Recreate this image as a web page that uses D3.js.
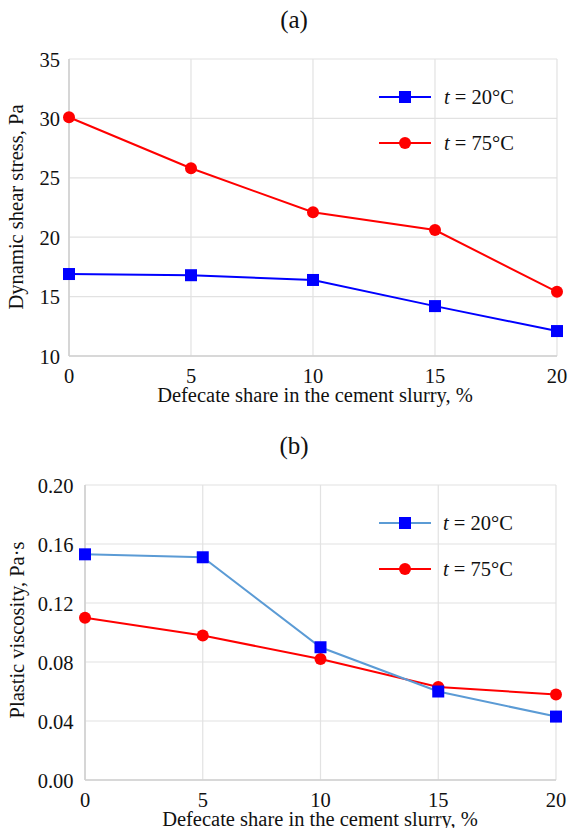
<!DOCTYPE html>
<html>
<head>
<meta charset="utf-8">
<title>Defecate share charts</title>
<style type="text/css">
body{
  margin:0;
  background:#fff;
}
svg text{
  font-family:"Liberation Serif","Times New Roman",serif;
  fill:#111;
}
</style>
</head>
<body>
<div id="chart"></div>
<script src="https://cdn.jsdelivr.net/npm/d3@7/dist/d3.min.js"></script>
<script type="text/javascript">
// data
var shares = [0, 5, 10, 15, 20];
var stress20 = [16.9, 16.8, 16.4, 14.2, 12.1];
var stress75 = [30.1, 25.8, 22.1, 20.6, 15.4];
var visc20 = [0.153, 0.151, 0.090, 0.060, 0.043];
var visc75 = [0.110, 0.098, 0.082, 0.063, 0.058];
var stressTicks = [10, 15, 20, 25, 30, 35];
var viscTicks = [0, 0.04, 0.08, 0.12, 0.16, 0.20];
var legendLabels = ["20°C", "75°C"];

var svg = d3.select("#chart").append("svg")
    .attr("width", 569)
    .attr("height", 828)
    .attr("font-family", "'Liberation Serif', 'Times New Roman', serif");

function drawPanel(o) {
  var x = d3.scaleLinear().domain([0, 20]).range([o.left, o.right]);
  var y = d3.scaleLinear().domain(o.domain).range([o.bottom, o.top]);
  var g = svg.append("g");

  // title
  g.append("text")
    .attr("x", 294).attr("y", o.titleY)
    .attr("text-anchor", "middle")
    .style("font-size", "25px")
    .text(o.title);

  // gridlines
  g.selectAll(".hg").data(o.yTicks).enter().append("line")
    .attr("x1", o.left).attr("x2", o.right)
    .attr("y1", function(d){ return y(d); })
    .attr("y2", function(d){ return y(d); })
    .attr("stroke", "#e2e2e2").attr("stroke-width", 1.2);
  g.selectAll(".vg").data(shares).enter().append("line")
    .attr("y1", o.top).attr("y2", o.bottom)
    .attr("x1", function(d){ return x(d); })
    .attr("x2", function(d){ return x(d); })
    .attr("stroke", "#e2e2e2").attr("stroke-width", 1.2);

  // axes lines
  g.append("line").attr("x1", o.left).attr("x2", o.left)
    .attr("y1", o.top).attr("y2", o.bottom)
    .attr("stroke", "#d0d0d0").attr("stroke-width", 1.6);
  g.append("line").attr("x1", o.left).attr("x2", o.right)
    .attr("y1", o.bottom).attr("y2", o.bottom)
    .attr("stroke", "#d0d0d0").attr("stroke-width", 1.6);

  // tick labels
  g.selectAll(".yt").data(o.yTicks).enter().append("text")
    .attr("x", o.left - o.tickGap)
    .attr("y", function(d){ return y(d); })
    .attr("dy", "0.37em")
    .attr("text-anchor", "end")
    .style("font-size", "20.5px")
    .text(function(d){ return o.fmt(d); });
  g.selectAll(".xt").data(shares).enter().append("text")
    .attr("x", function(d){ return x(d); })
    .attr("y", o.bottom + 26.5)
    .attr("text-anchor", "middle")
    .style("font-size", "20.5px")
    .text(function(d){ return d; });

  // axis titles
  g.append("text")
    .attr("x", o.xTitleX)
    .attr("y", o.bottom + 45.5)
    .attr("text-anchor", "middle")
    .style("font-size", "20.5px")
    .text("Defecate share in the cement slurry, %");
  g.append("text")
    .attr("transform", "translate(" + o.yTitleX + "," + o.yTitleY + ") rotate(-90)")
    .attr("text-anchor", "middle")
    .style("font-size", "20.5px")
    .text(o.yTitle);

  var line = d3.line()
    .x(function(d, i){ return x(shares[i]); })
    .y(function(d){ return y(d); });

  // series
  g.append("path").datum(o.s75)
    .attr("d", line).attr("fill", "none")
    .attr("stroke", "#ff0000").attr("stroke-width", 2);
  g.append("path").datum(o.s20)
    .attr("d", line).attr("fill", "none")
    .attr("stroke", o.line20).attr("stroke-width", 2);

  g.selectAll(".c75").data(o.s75).enter().append("circle")
    .attr("cx", function(d, i){ return x(shares[i]); })
    .attr("cy", function(d){ return y(d); })
    .attr("r", 6).attr("fill", "#ff0000");
  g.selectAll(".s20").data(o.s20).enter().append("rect")
    .attr("x", function(d, i){ return x(shares[i]) - 6; })
    .attr("y", function(d){ return y(d) - 6; })
    .attr("width", 12).attr("height", 12)
    .attr("fill", "#0000ff");

  // legend (no background, gridlines show through)
  var lg = g.append("g");
  legendLabels.forEach(function(lab, i){
    var ly = o.legY + i * 46;
    var col = i === 0 ? o.line20 : "#ff0000";
    lg.append("line").attr("x1", 379).attr("x2", 431)
      .attr("y1", ly).attr("y2", ly)
      .attr("stroke", col).attr("stroke-width", 2);
    if (i === 0) {
      lg.append("rect").attr("x", 399).attr("y", ly - 6)
        .attr("width", 12).attr("height", 12).attr("fill", "#0000ff");
    } else {
      lg.append("circle").attr("cx", 405).attr("cy", ly)
        .attr("r", 6).attr("fill", "#ff0000");
    }
    var t = lg.append("text").attr("x", o.legTextX).attr("y", ly + 7)
      .style("font-size", "20.5px");
    t.append("tspan").style("font-style", "italic").text("t");
    t.append("tspan").text(" = " + lab);
  });
}

drawPanel({
  title: "(a)", titleY: 28,
  left: 69, right: 557, top: 59, bottom: 356,
  domain: [10, 35], yTicks: stressTicks, tickGap: 9,
  fmt: function(d){ return d; },
  xTitleX: 315, yTitleX: 23, yTitleY: 207,
  yTitle: "Dynamic shear stress,  Pa",
  s20: stress20, s75: stress75, line20: "#0000ff",
  legY: 97, legTextX: 444
});

drawPanel({
  title: "(b)", titleY: 454,
  left: 85, right: 556, top: 485, bottom: 780,
  domain: [0, 0.20], yTicks: viscTicks, tickGap: 11.5,
  fmt: d3.format(".2f"),
  xTitleX: 320, yTitleX: 24, yTitleY: 630,
  yTitle: "Plastic viscosity, Pa·s",
  s20: visc20, s75: visc75, line20: "#5b9bd5",
  legY: 523, legTextX: 443
});
</script>
</body>
</html>
